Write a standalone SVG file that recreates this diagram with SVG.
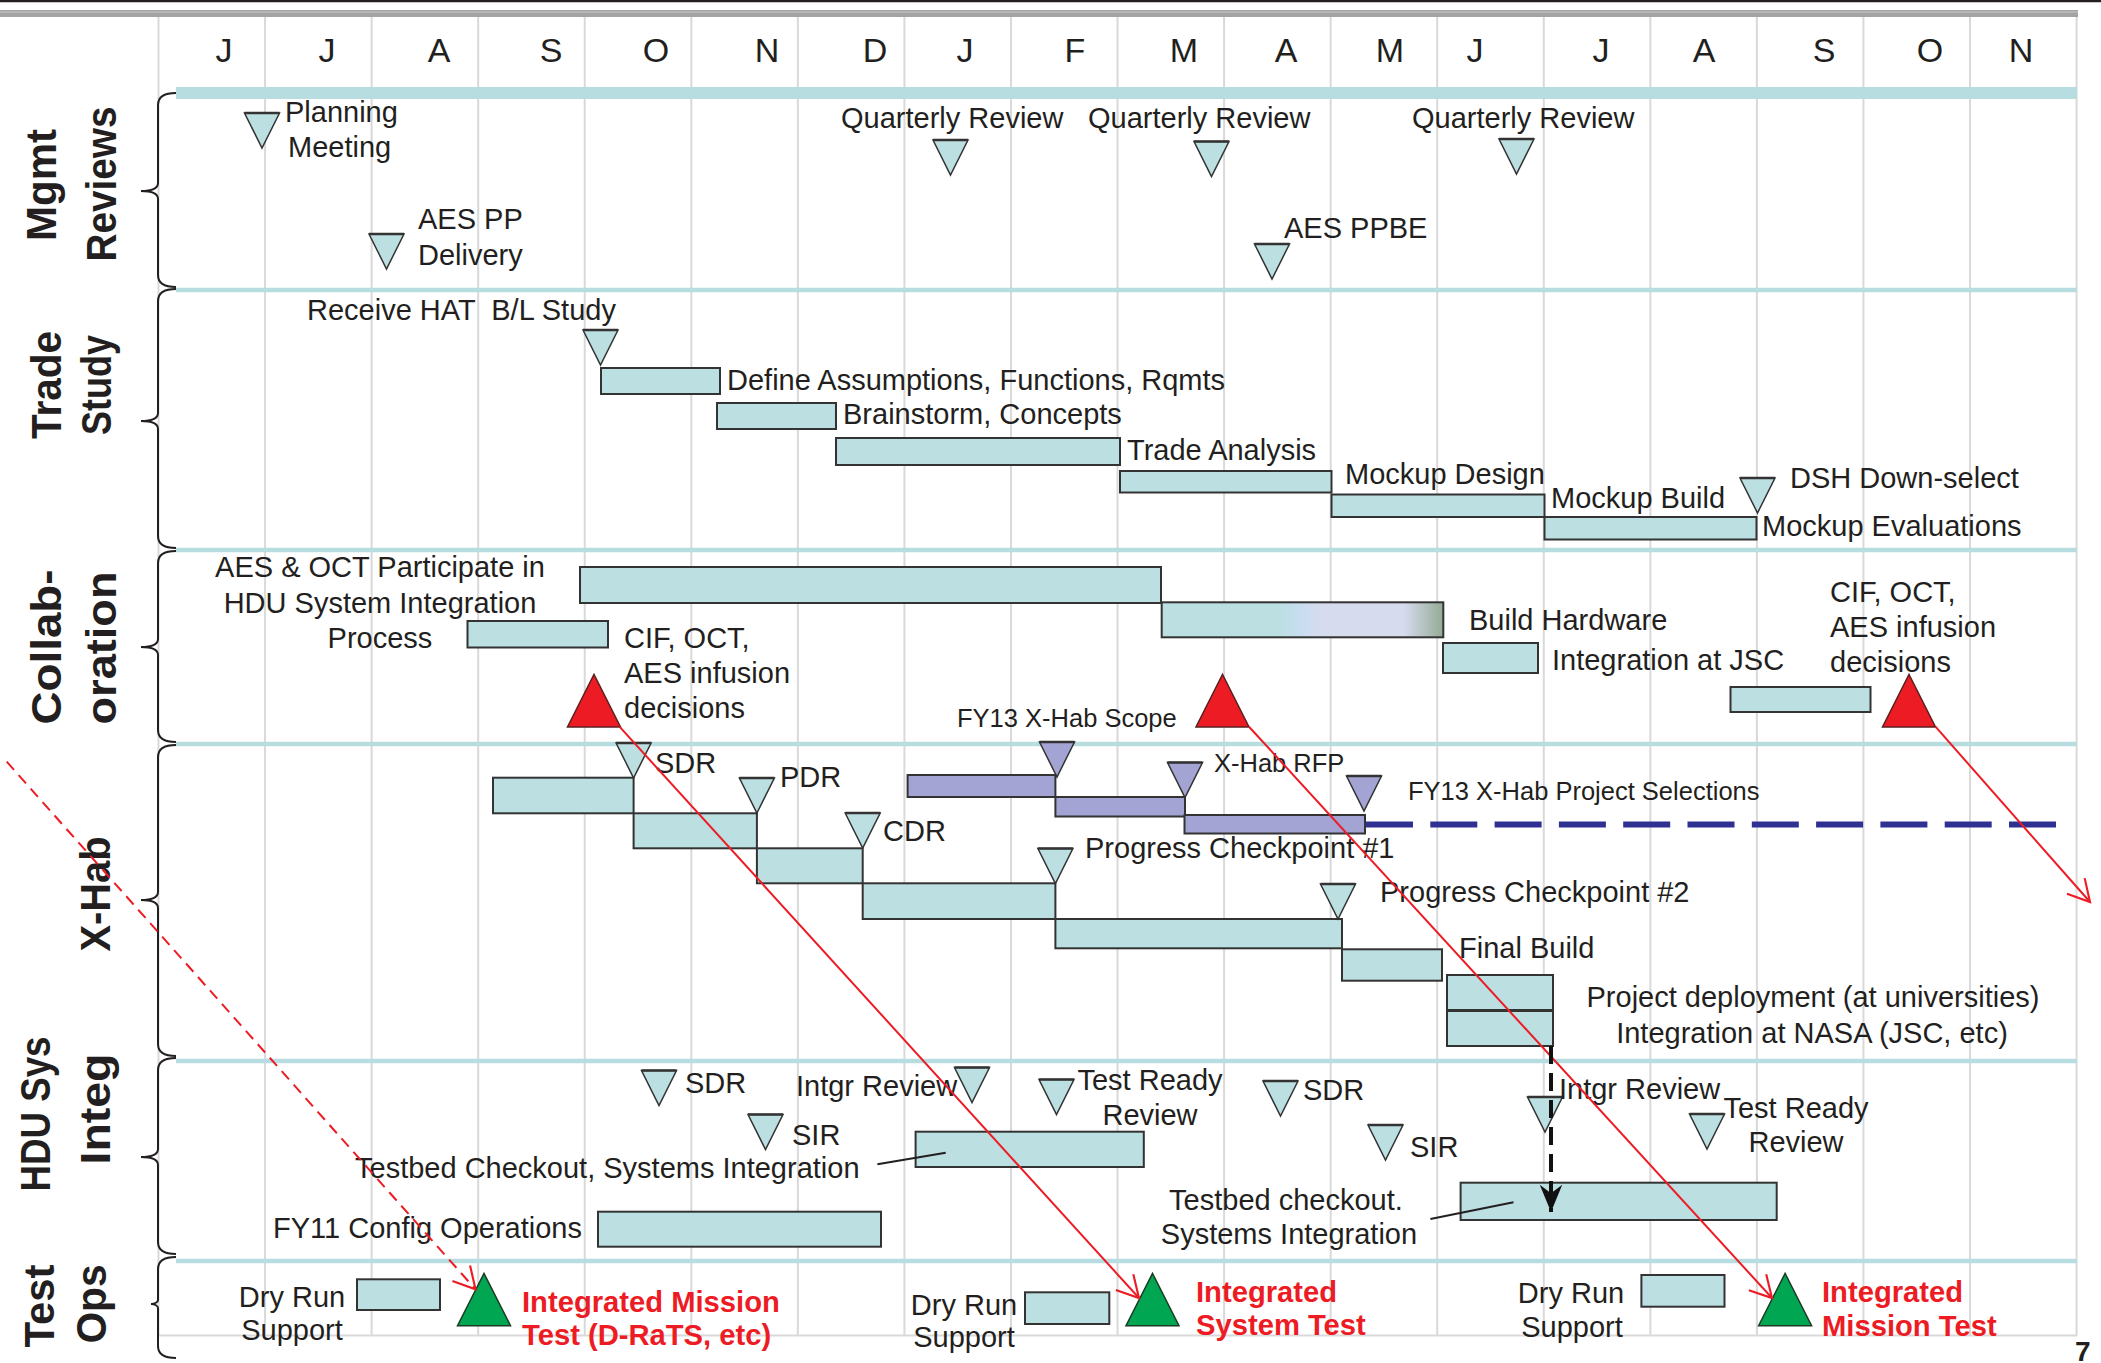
<svg xmlns="http://www.w3.org/2000/svg" width="2101" height="1363" viewBox="0 0 2101 1363">
<style>
.t{font-family:"Liberation Sans",Arial,sans-serif;font-size:29px;fill:#231f20}
.ts{font-size:25.5px}
.mid{text-anchor:middle}
.rt{font-family:"Liberation Sans",Arial,sans-serif;font-size:29.2px;font-weight:bold;fill:#ed1c24}
.mon{font-family:"Liberation Sans",Arial,sans-serif;font-size:34px;fill:#231f20;text-anchor:middle}
.lab{font-family:"Liberation Sans",Arial,sans-serif;font-size:42px;font-weight:bold;fill:#231f20;text-anchor:middle}
.bar{fill:#bcdfe2;stroke:#333;stroke-width:2}
.pbar{fill:#a3a3d4;stroke:#333;stroke-width:2}
.tri{fill:#bcdfe2;stroke:#333;stroke-width:1.5}
.ptri{fill:#a3a3d4;stroke:#333;stroke-width:1.5}
.rtri{fill:#ed1c24;stroke:#5b2020;stroke-width:1.5}
.gtri{fill:#00a651;stroke:#1d3b24;stroke-width:1.5}
.grid{stroke:#d9d9d9;stroke-width:2;fill:none}
.sep{stroke:#b7dde0;stroke-width:4.5}
.brace{fill:none;stroke:#231f20;stroke-width:2}
.red{stroke:#ed1c24;stroke-width:2;fill:none}
.lead{stroke:#231f20;stroke-width:2}
</style>
<defs>
<g id="dtri"><polygon points="0,0 35,0 17.5,35"/><line x1="0" y1="0" x2="35" y2="0" stroke-width="2.5"/></g>
<polygon id="utri" points="0,52.4 53,52.4 26.5,0"/>
<marker id="vhead" markerUnits="userSpaceOnUse" markerWidth="30" markerHeight="30" viewBox="-24 -14 28 28" refX="0" refY="0" orient="auto">
<path d="M-20,-11 L0,0 L-20,11" fill="none" stroke="#ed1c24" stroke-width="2"/>
</marker>
<marker id="bhead" markerUnits="userSpaceOnUse" markerWidth="30" markerHeight="30" viewBox="-30 -15 32 30" refX="0" refY="0" orient="auto">
<path d="M0,0 L-29,-12 L-20,0 L-29,12 Z" fill="#111"/>
</marker>
<linearGradient id="bhw" x1="0" y1="0" x2="1" y2="0">
<stop offset="0" stop-color="#bcdfe2"/>
<stop offset="0.42" stop-color="#bcdfe2"/>
<stop offset="0.5" stop-color="#c9ddf1"/>
<stop offset="0.56" stop-color="#d6dbee"/>
<stop offset="0.86" stop-color="#d6dbee"/>
<stop offset="1" stop-color="#94aa96"/>
</linearGradient>
<filter id="blur" x="-5%" y="-200%" width="110%" height="500%"><feGaussianBlur stdDeviation="2.5"/></filter>
</defs>
<rect x="0" y="0" width="2101" height="1363" fill="#fff"/>
<g id="frame">
<line x1="0" y1="1" x2="2101" y2="1" stroke="#231f20" stroke-width="2.5"/>
<rect x="0" y="10" width="2078" height="7" fill="#a3a3a3"/>
<line x1="0" y1="12" x2="2078" y2="12" stroke="#c8c8c8" stroke-width="1"/>
<path class="grid" d="M158.5,17V1335.5M265.06,17V1335.5M371.62,17V1335.5M478.18,17V1335.5M584.74,17V1335.5M691.3,17V1335.5M797.86,17V1335.5M904.42,17V1335.5M1010.98,17V1335.5M1117.54,17V1335.5M1224.1,17V1335.5M1330.66,17V1335.5M1437.22,17V1335.5M1543.78,17V1335.5M1650.34,17V1335.5M1756.9,17V1335.5M1863.46,17V1335.5M1970.02,17V1335.5M2076.58,17V1335.5M158.5,1335.5H2077"/>
<text class="mon" x="224" y="62">J</text>
<text class="mon" x="327" y="62">J</text>
<text class="mon" x="439" y="62">A</text>
<text class="mon" x="551" y="62">S</text>
<text class="mon" x="656" y="62">O</text>
<text class="mon" x="767" y="62">N</text>
<text class="mon" x="875" y="62">D</text>
<text class="mon" x="965" y="62">J</text>
<text class="mon" x="1075" y="62">F</text>
<text class="mon" x="1184" y="62">M</text>
<text class="mon" x="1286" y="62">A</text>
<text class="mon" x="1390" y="62">M</text>
<text class="mon" x="1475" y="62">J</text>
<text class="mon" x="1601" y="62">J</text>
<text class="mon" x="1704" y="62">A</text>
<text class="mon" x="1824" y="62">S</text>
<text class="mon" x="1930" y="62">O</text>
<text class="mon" x="2021" y="62">N</text>
<rect x="176" y="87" width="1901" height="12" fill="#b7dde0"/>
<line class="sep" x1="176" y1="290" x2="2077" y2="290"/>
<line class="sep" x1="176" y1="550" x2="2077" y2="550"/>
<line class="sep" x1="176" y1="744" x2="2077" y2="744"/>
<line class="sep" x1="176" y1="1061" x2="2077" y2="1061"/>
<line class="sep" x1="176" y1="1261" x2="2077" y2="1261"/>
<text x="2075" y="1361" font-family="Liberation Sans, Arial, sans-serif" font-size="28" font-weight="bold" fill="#231f20">7</text>
</g>
<g id="lane-mgmt">
<path class="brace" d="M176,93 C165,93 158,96 158,105 L158,183 C158,188 152,191 141,191 C152,191 158,194 158,199 L158,275 C158,284 165,287 176,287"/>
<text class="lab" transform="translate(56,185) rotate(-90)" textLength="112" lengthAdjust="spacingAndGlyphs">Mgmt</text>
<text class="lab" transform="translate(116,184) rotate(-90)" textLength="155" lengthAdjust="spacingAndGlyphs">Reviews</text>
</g>
<g id="lane-trade">
<path class="brace" d="M176,289 C165,289 158,292 158,301 L158,413 C158,418 152,421 141,421 C152,421 158,424 158,429 L158,536 C158,545 165,548 176,548"/>
<text class="lab" transform="translate(61,385) rotate(-90)" textLength="108" lengthAdjust="spacingAndGlyphs">Trade</text>
<text class="lab" transform="translate(111,385) rotate(-90)" textLength="100" lengthAdjust="spacingAndGlyphs">Study</text>
</g>
<g id="lane-collab">
<path class="brace" d="M176,551 C165,551 158,554 158,563 L158,639 C158,644 152,647 141,647 C152,647 158,650 158,655 L158,730 C158,739 165,742 176,742"/>
<text class="lab" transform="translate(61,647) rotate(-90)" textLength="155" lengthAdjust="spacingAndGlyphs">Collab-</text>
<text class="lab" transform="translate(116,648) rotate(-90)" textLength="153" lengthAdjust="spacingAndGlyphs">oration</text>
</g>
<g id="lane-xhab">
<path class="brace" d="M176,745 C165,745 158,748 158,757 L158,892 C158,897 152,900 141,900 C152,900 158,903 158,908 L158,1044 C158,1053 165,1056 176,1056"/>
<text class="lab" transform="translate(110,894) rotate(-90)" textLength="115" lengthAdjust="spacingAndGlyphs">X-Hab</text>
</g>
<g id="lane-hdu">
<path class="brace" d="M176,1058 C165,1058 158,1061 158,1070 L158,1149 C158,1154 152,1157 141,1157 C152,1157 158,1160 158,1165 L158,1242 C158,1251 165,1254 176,1254"/>
<text class="lab" transform="translate(50,1114) rotate(-90)" textLength="155" lengthAdjust="spacingAndGlyphs">HDU Sys</text>
<text class="lab" transform="translate(110,1109) rotate(-90)" textLength="111" lengthAdjust="spacingAndGlyphs">Integ</text>
</g>
<g id="lane-test">
<path class="brace" d="M176,1257 C165,1257 158,1260 158,1269 L158,1300 C158,1302 155,1304 151,1304 C155,1304 158,1306 158,1308 L158,1346 C158,1355 165,1358 176,1358"/>
<text class="lab" transform="translate(54,1306) rotate(-90)" textLength="83" lengthAdjust="spacingAndGlyphs">Test</text>
<text class="lab" transform="translate(106,1304) rotate(-90)" textLength="79" lengthAdjust="spacingAndGlyphs">Ops</text>
</g>

<g id="planning-meeting"><use href="#dtri" class="tri" x="244.5" y="113"/><text class="t" x="285" y="122">Planning</text><text class="t" x="288" y="157">Meeting</text></g>
<g id="quarterly-review-1"><use href="#dtri" class="tri" x="933" y="140"/><text class="t" x="841" y="128">Quarterly Review</text></g>
<g id="quarterly-review-2"><use href="#dtri" class="tri" x="1194" y="141.5"/><text class="t" x="1088" y="128">Quarterly Review</text></g>
<g id="quarterly-review-3"><use href="#dtri" class="tri" x="1499" y="139"/><text class="t" x="1412" y="128">Quarterly Review</text></g>
<g id="aes-pp-delivery"><use href="#dtri" class="tri" x="369" y="234"/><text class="t" x="418" y="229">AES PP</text><text class="t" x="418" y="265">Delivery</text></g>
<g id="aes-ppbe"><use href="#dtri" class="tri" x="1254.5" y="244"/><text class="t" x="1284" y="238">AES PPBE</text></g>

<g id="receive-hat"><use href="#dtri" class="tri" x="583" y="330"/><text class="t" x="307" y="320" xml:space="preserve">Receive HAT  B/L Study</text></g>
<g id="define-assumptions"><rect class="bar" x="601" y="368" width="119" height="26"/><text class="t" x="727" y="390">Define Assumptions, Functions, Rqmts</text></g>
<g id="brainstorm"><rect class="bar" x="717" y="403" width="119" height="26"/><text class="t" x="843" y="424">Brainstorm, Concepts</text></g>
<g id="trade-analysis"><rect class="bar" x="836" y="438" width="284" height="27"/><text class="t" x="1127" y="460">Trade Analysis</text></g>
<g id="mockup-design"><rect class="bar" x="1120" y="471" width="211.5" height="21.5"/><text class="t" x="1345" y="484">Mockup Design</text></g>
<g id="mockup-build"><rect class="bar" x="1331.5" y="494.5" width="213" height="22.5"/><text class="t" x="1551" y="508">Mockup Build</text></g>
<g id="mockup-evaluations"><rect class="bar" x="1544.5" y="517" width="212" height="22.5"/><text class="t" x="1762" y="536">Mockup Evaluations</text></g>
<g id="dsh-down-select"><use href="#dtri" class="tri" x="1740" y="478"/><text class="t" x="1790" y="488">DSH Down-select</text></g>

<g id="aes-oct-participate"><rect class="bar" x="580" y="567" width="581" height="36"/><rect class="bar" x="467.5" y="621" width="140.5" height="26.5"/><text class="t mid" x="380" y="577">AES &amp; OCT Participate in</text><text class="t mid" x="380" y="613">HDU System Integration</text><text class="t mid" x="380" y="648">Process</text></g>
<g id="build-hardware"><rect x="1161.7" y="602.3" width="281.6" height="35" fill="url(#bhw)" stroke="#333" stroke-width="2"/><text class="t" x="1469" y="630">Build Hardware</text></g>
<g id="integration-jsc"><rect class="bar" x="1443" y="643" width="95" height="30"/><text class="t" x="1552" y="670">Integration at JSC</text></g>
<g id="cif-decision-1"><use href="#utri" class="rtri" x="567.5" y="674.5"/><text class="t" x="624" y="648">CIF, OCT,</text><text class="t" x="624" y="683">AES infusion</text><text class="t" x="624" y="718">decisions</text></g>
<g id="fy13-xhab-scope"><use href="#utri" class="rtri" x="1196" y="674.5"/><text class="t ts" x="957" y="727">FY13 X-Hab Scope</text><use href="#dtri" class="ptri" x="1039.5" y="742"/></g>
<g id="cif-decision-2"><rect class="bar" x="1730.5" y="687" width="140" height="25"/><use href="#utri" class="rtri" x="1882.5" y="674.5"/><text class="t" x="1830" y="602">CIF, OCT,</text><text class="t" x="1830" y="637">AES infusion</text><text class="t" x="1830" y="672">decisions</text></g>

<g id="xhab-rfp"><rect class="pbar" x="907.6" y="775" width="147.8" height="22"/><rect class="pbar" x="1055.4" y="797" width="129.6" height="19.5"/><use href="#dtri" class="ptri" x="1167.5" y="762.5"/><text class="t ts" x="1214" y="772">X-Hab RFP</text></g>
<g id="xhab-selections"><line x1="1366" y1="829" x2="2056" y2="829" stroke="#777" stroke-width="6" stroke-dasharray="47 17.3" opacity="0.55" filter="url(#blur)"/><line x1="1366" y1="824.5" x2="2056" y2="824.5" stroke="#2e3192" stroke-width="6" stroke-dasharray="47 17.3"/><rect class="pbar" x="1184.5" y="815" width="180.5" height="18.5"/><use href="#dtri" class="ptri" x="1346.5" y="776"/><text class="t ts" x="1408" y="800">FY13 X-Hab Project Selections</text></g>
<g id="xhab-sdr"><rect class="bar" x="493" y="777.7" width="140.6" height="35.6"/><use href="#dtri" class="tri" x="616.1" y="743"/><text class="t" x="655" y="773">SDR</text></g>
<g id="xhab-pdr"><rect class="bar" x="633.6" y="813.3" width="123.3" height="35"/><use href="#dtri" class="tri" x="739.4" y="778"/><text class="t" x="780" y="787">PDR</text></g>
<g id="xhab-cdr"><rect class="bar" x="756.9" y="848.3" width="105.8" height="35"/><use href="#dtri" class="tri" x="845.2" y="813"/><text class="t" x="883" y="841">CDR</text></g>
<g id="progress-checkpoint-1"><rect class="bar" x="862.7" y="883.3" width="192.7" height="35.7"/><use href="#dtri" class="tri" x="1037.9" y="848.5"/><text class="t" x="1085" y="858">Progress Checkpoint #1</text></g>
<g id="progress-checkpoint-2"><rect class="bar" x="1055.4" y="919" width="286.6" height="29.3"/><use href="#dtri" class="tri" x="1320.5" y="884"/><text class="t" x="1380" y="902">Progress Checkpoint #2</text></g>
<g id="final-build"><rect class="bar" x="1342" y="949.3" width="100" height="31.4"/><text class="t" x="1459" y="958">Final Build</text></g>
<g id="project-deployment"><rect class="bar" x="1447" y="975" width="106" height="35"/><text class="t mid" x="1813" y="1007">Project deployment (at universities)</text></g>
<g id="integration-nasa"><rect class="bar" x="1447" y="1011" width="106" height="35"/><text class="t mid" x="1812" y="1043">Integration at NASA (JSC, etc)</text></g>

<g id="hdu-sdr-1"><use href="#dtri" class="tri" x="641.5" y="1070.5"/><text class="t" x="685" y="1093">SDR</text></g>
<g id="hdu-intgr-review-1"><use href="#dtri" class="tri" x="954.5" y="1067.5"/><text class="t" x="796" y="1096">Intgr Review</text></g>
<g id="hdu-sir-1"><use href="#dtri" class="tri" x="748" y="1114.5"/><text class="t" x="792" y="1145">SIR</text></g>
<g id="testbed-checkout-1"><rect class="bar" x="915.6" y="1131.7" width="228.2" height="35.3"/><line class="lead" x1="877.4" y1="1164.3" x2="945.7" y2="1152.7"/><text class="t" x="355" y="1178">Testbed Checkout, Systems Integration</text></g>
<g id="fy11-config"><rect class="bar" x="598" y="1211.7" width="283" height="35"/><text class="t" x="273" y="1238">FY11 Config Operations</text></g>
<g id="hdu-trr-1"><use href="#dtri" class="tri" x="1039" y="1079.5"/><text class="t mid" x="1150" y="1090">Test Ready</text><text class="t mid" x="1150" y="1125">Review</text></g>
<g id="hdu-sdr-2"><use href="#dtri" class="tri" x="1263" y="1081"/><text class="t" x="1303" y="1100">SDR</text></g>
<g id="hdu-sir-2"><use href="#dtri" class="tri" x="1368" y="1125"/><text class="t" x="1410" y="1157">SIR</text></g>
<g id="hdu-intgr-review-2"><use href="#dtri" class="tri" x="1527.5" y="1097"/><text class="t" x="1559" y="1099">Intgr Review</text></g>
<g id="hdu-trr-2"><use href="#dtri" class="tri" x="1689.5" y="1114"/><text class="t mid" x="1796" y="1118">Test Ready</text><text class="t mid" x="1796" y="1152">Review</text></g>
<g id="testbed-checkout-2"><rect class="bar" x="1460.6" y="1182.7" width="316.1" height="37.3"/><line class="lead" x1="1430.4" y1="1219" x2="1513.5" y2="1202.3"/><text class="t mid" x="1286" y="1210">Testbed checkout.</text><text class="t mid" x="1289" y="1244">Systems Integration</text></g>

<g id="dry-run-1"><rect class="bar" x="357" y="1279.3" width="83" height="30.7"/><text class="t mid" x="292" y="1307">Dry Run</text><text class="t mid" x="292" y="1340">Support</text></g>
<g id="integrated-mission-test-1"><use href="#utri" class="gtri" x="457.5" y="1273.3"/><text class="rt" x="522" y="1312">Integrated Mission</text><text class="rt" x="522" y="1345">Test (D-RaTS, etc)</text></g>
<g id="dry-run-2"><rect class="bar" x="1025" y="1292.3" width="84.3" height="31.7"/><text class="t mid" x="964" y="1315">Dry Run</text><text class="t mid" x="964" y="1347">Support</text></g>
<g id="integrated-system-test"><use href="#utri" class="gtri" x="1126" y="1273.3"/><text class="rt" x="1196" y="1302">Integrated</text><text class="rt" x="1196" y="1335">System Test</text></g>
<g id="dry-run-3"><rect class="bar" x="1641.4" y="1275" width="83.1" height="31.7"/><text class="t mid" x="1571" y="1303">Dry Run</text><text class="t mid" x="1572" y="1337">Support</text></g>
<g id="integrated-mission-test-2"><use href="#utri" class="gtri" x="1758.6" y="1273.3"/><text class="rt" x="1822" y="1302">Integrated</text><text class="rt" x="1822" y="1336">Mission Test</text></g>

<g id="connectors">
<line class="red" x1="619.5" y1="726.7" x2="1139" y2="1298" marker-end="url(#vhead)"/>
<line class="red" x1="1249" y1="726.7" x2="1772" y2="1298" marker-end="url(#vhead)"/>
<line class="red" x1="1935.5" y1="726.7" x2="2090" y2="902" marker-end="url(#vhead)"/>
<line class="red" x1="6.7" y1="761.7" x2="475.5" y2="1289.3" stroke-dasharray="11 7" marker-end="url(#vhead)"/>
<line x1="1551" y1="1046" x2="1551" y2="1212" stroke="#111" stroke-width="4" stroke-dasharray="18 9" marker-end="url(#bhead)"/>
</g>
</svg>
